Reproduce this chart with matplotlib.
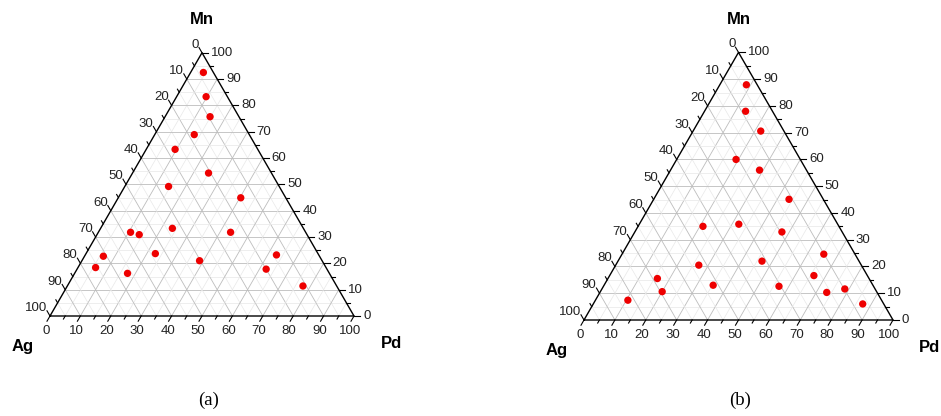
import numpy as np
import matplotlib.pyplot as plt

# Pd and Mn in at.%, Ag is the rest
pd_a = [4.2, 9.7, 14.8, 13.0, 9.5, 25.0, 14.4, 40.3, 10.6, 13.9, 23.6, 43.5,
        6.2, 22.8, 38.7, 62.9, 5.8, 17.4, 62.2, 77.5]
mn_a = [92.5, 83.3, 75.7, 68.9, 63.3, 54.3, 49.2, 44.9, 31.8, 30.9, 33.3, 31.8,
        22.7, 23.7, 21.0, 23.2, 18.4, 16.2, 17.8, 11.4]

pd_b = [8.6, 13.3, 21.9, 19.2, 28.8, 43.8, 21.0, 32.2, 47.6, 65.3, 26.9, 46.6,
        16.0, 66.1, 35.3, 20.0, 56.8, 78.6, 73.4, 10.5, 87.2]
mn_b = [87.9, 78.0, 70.6, 60.0, 56.0, 45.1, 35.0, 35.8, 32.9, 24.6, 20.5, 22.0,
        15.5, 16.6, 13.0, 10.6, 12.6, 11.6, 10.3, 7.4, 6.0]

ticks = list(range(0, 101, 10))
H = np.sqrt(3) / 2


def to_xy(pd, mn):
    pd = np.asarray(pd, float) / 100
    mn = np.asarray(mn, float) / 100
    return pd + mn / 2, mn * H


def draw_panel(ax, pd, mn, s):
    # s = pixels per data unit, used to turn pixel offsets into data offsets
    sans = 'Liberation Sans'
    # grid: minor every 5, major every 10
    for v in range(5, 100, 5):
        col, lw = ('#bdbdbd', 0.6) if v % 10 == 0 else ('#e8e8e8', 0.5)
        # constant Mn (horizontal)
        x, y = to_xy([0, 100 - v], [v, v])
        ax.plot(x, y, color=col, lw=lw, zorder=1)
        # constant Pd (parallel to left side)
        x, y = to_xy([v, v], [0, 100 - v])
        ax.plot(x, y, color=col, lw=lw, zorder=1)
        # constant Ag (parallel to right side)
        x, y = to_xy([100 - v, 0], [0, 100 - v])
        ax.plot(x, y, color=col, lw=lw, zorder=1)

    # frame
    x, y = to_xy([0, 100, 0, 0], [0, 0, 100, 0])
    ax.plot(x, y, color='black', lw=1.0, zorder=3)

    # ticks
    for v in range(0, 101, 5):
        L = (6 if v % 10 == 0 else 3.5) / s
        # bottom axis (Pd): outward down-left
        x0, y0 = to_xy(v, 0)
        ax.plot([x0, x0 - 0.5 * L], [y0, y0 - H * L], color='black', lw=0.8)
        # right axis (Mn): horizontal, outward right
        x0, y0 = to_xy(100 - v, v)
        ax.plot([x0, x0 + L], [y0, y0], color='black', lw=0.8)
        # left axis (Ag): outward up-left
        x0, y0 = to_xy(0, 100 - v)
        ax.plot([x0, x0 - 0.5 * L], [y0, y0 + H * L], color='black', lw=0.8)

    for v in ticks:
        x0, y0 = to_xy(v, 0)
        ax.text(x0 - 4 / s, y0 - 15 / s, str(v), ha='center', va='center',
                fontsize=9.5, family=sans, color='#222222')
        x0, y0 = to_xy(100 - v, v)
        ax.text(x0 + 9 / s, y0, str(v), ha='left', va='center',
                fontsize=9.5, family=sans, color='#222222')
        x0, y0 = to_xy(0, 100 - v)
        ax.text(x0 - 3 / s, y0 + 8 / s, str(v), ha='right', va='center',
                fontsize=9.5, family=sans, color='#222222')

    ax.text(0.5, H + 33 / s, 'Mn', ha='center', va='center', fontsize=12,
            fontweight='bold', family=sans)
    ax.text(-27 / s, -31 / s, 'Ag', ha='center', va='center', fontsize=12,
            fontweight='bold', family=sans)
    ax.text(1 + 37 / s, -27 / s, 'Pd', ha='center', va='center', fontsize=12,
            fontweight='bold', family=sans)

    x, y = to_xy(pd, mn)
    ax.scatter(x, y, s=28, color='#ee0000', edgecolors='none', zorder=4)
    ax.axis('off')


fig = plt.figure(figsize=(9.41, 4.16), dpi=100)

ax1 = fig.add_axes([0, 0, 470 / 941, 1])
s1 = 304
ax1.set_xlim(-50 / s1, 420 / s1)
ax1.set_ylim(-100 / s1, 316 / s1)
draw_panel(ax1, pd_a, mn_a, s1)

ax2 = fig.add_axes([470 / 941, 0, 471 / 941, 1])
s2 = 309
ax2.set_xlim((470 - 584) / s2, (941 - 584) / s2)
ax2.set_ylim((320 - 416) / s2, 320 / s2)
draw_panel(ax2, pd_b, mn_b, s2)

fig.text(209 / 941, 1 - 400 / 416, '(a)', ha='center', va='center',
         fontsize=13.5, family='Liberation Serif')
fig.text(740 / 941, 1 - 400 / 416, '(b)', ha='center', va='center',
         fontsize=13.5, family='Liberation Serif')

fig.savefig('out.png', dpi=100)
